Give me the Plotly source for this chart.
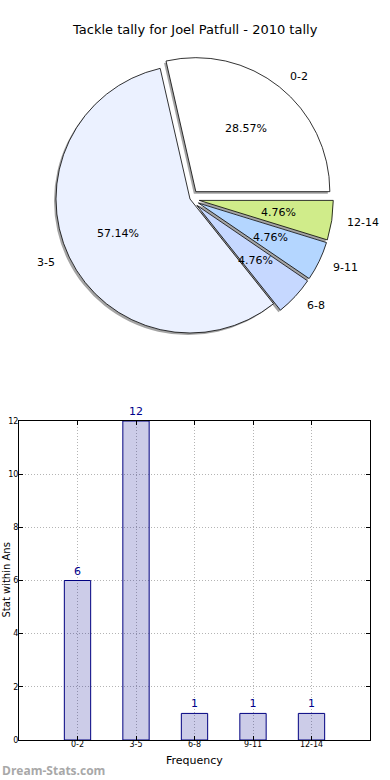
import numpy as np
import plotly.graph_objects as go

# ---------------- data ----------------
categories = ["0-2", "3-5", "6-8", "9-11", "12-14"]
counts = [6, 12, 1, 1, 1]
pie_colors = ["#ffffff", "#ebf1ff", "#c6d8ff", "#b4d6ff", "#d0ec8a"]
pie_pull = [0.07, 0.0, 0.07, 0.07, 0.07]
title_text = "Tackle tally for Joel Patfull - 2010 tally"
x_title = "Frequency"
y_title = "Stat within Ans"
watermark = "Dream-Stats.com"

W, H = 390, 780
FONT = "DejaVu Sans"

# ---------------- pie geometry (pixels) ----------------
cx, cy = 190.0, 199.0          # pie centre in pixels (from top-left)
r = 134.0                      # pie radius in pixels
half = r * (1 + max(pie_pull))
dom_x = [(cx - half) / W, (cx + half) / W]
dom_y = [(H - (cy + half)) / H, (H - (cy - half)) / H]
sh = 2.0                       # shadow offset in px

vals = np.array(counts, dtype=float)
fracs = vals / vals.sum()
# plotly (counterclockwise) puts the first slice ending at the rotation angle;
# shift so the first slice starts at 3 o'clock like the reference
rot = 90.0 - fracs[0] * 360.0

fig = go.Figure()

# shadow
fig.add_trace(go.Pie(
    labels=categories, values=counts, sort=False, direction="counterclockwise",
    rotation=rot, pull=pie_pull, textinfo="none", hoverinfo="skip",
    marker=dict(colors=["rgba(90,90,90,0.55)"] * len(counts),
                line=dict(width=0)),
    domain=dict(x=[dom_x[0] - sh / W, dom_x[1] - sh / W],
                y=[dom_y[0] - sh / H, dom_y[1] - sh / H]),
    showlegend=False,
))
# main pie
fig.add_trace(go.Pie(
    labels=categories, values=counts, sort=False, direction="counterclockwise",
    rotation=rot, pull=pie_pull, textinfo="none",
    marker=dict(colors=pie_colors, line=dict(color="#000000", width=0.8)),
    domain=dict(x=dom_x, y=dom_y),
    showlegend=False,
))

# percent + category labels derived from values
ends = np.cumsum(fracs) * 360.0
starts = ends - fracs * 360.0
mids = np.deg2rad((starts + ends) / 2.0)
annotations = []
for lab, f, a, p in zip(categories, fracs, mids, pie_pull):
    ox = cx + p * r * np.cos(a)
    oy = cy - p * r * np.sin(a)
    px = ox + 0.6 * r * np.cos(a)
    py = oy - 0.6 * r * np.sin(a)
    annotations.append(dict(
        x=px / W, y=(H - py) / H, xref="paper", yref="paper",
        text=f"{f*100:.2f}%", showarrow=False,
        font=dict(family=FONT, size=11, color="#000000"),
        xanchor="center", yanchor="middle"))
    lx = ox + 1.1 * r * np.cos(a)
    ly = oy - 1.1 * r * np.sin(a)
    annotations.append(dict(
        x=lx / W, y=(H - ly) / H, xref="paper", yref="paper",
        text=lab, showarrow=False,
        font=dict(family=FONT, size=11, color="#000000"),
        xanchor="left" if np.cos(a) > 0 else "right", yanchor="middle"))

# ---------------- bar chart ----------------
xpos = list(range(len(categories)))
fig.add_trace(go.Bar(
    x=xpos, y=counts, width=0.45,
    marker=dict(color="rgba(0,0,139,0.2)", line=dict(color="#000080", width=1)),
    text=[str(c) for c in counts], textposition="outside",
    textfont=dict(family=FONT, size=11, color="#00008b"),
    cliponaxis=False, xaxis="x", yaxis="y", showlegend=False,
))

ax_left, ax_right = 19, 370
ax_top, ax_bottom = 421, 740

grid = dict(showgrid=True, gridcolor="#b4b4b4", griddash="1px,2px", gridwidth=1)
fig.update_layout(
    width=W, height=H,
    margin=dict(l=0, r=0, t=0, b=0),
    paper_bgcolor="white", plot_bgcolor="white",
    font=dict(family=FONT, color="#000000"),
    xaxis=dict(domain=[ax_left / W, ax_right / W], anchor="y",
               range=[-1, 5], tickvals=xpos, ticktext=categories,
               ticks="inside", ticklen=4, tickcolor="#000000",
               showline=True, linecolor="#000000", linewidth=1, mirror="ticks",
               zeroline=False, automargin=False, ticklabelstandoff=-4,
               tickfont=dict(family=FONT, size=8, color="#000000"),
               **grid),
    yaxis=dict(domain=[(H - ax_bottom) / H, (H - ax_top) / H], anchor="x",
               range=[0, 12], dtick=2,
               ticks="inside", ticklen=4, tickcolor="#000000",
               showline=True, linecolor="#000000", linewidth=1, mirror="ticks",
               zeroline=False, automargin=False, ticklabelstandoff=-2,
               tickfont=dict(family=FONT, size=8, color="#000000"),
               **grid),
    annotations=annotations + [
        dict(x=0.5, y=(H - 30) / H, xref="paper", yref="paper",
             text=title_text, showarrow=False,
             font=dict(family=FONT, size=13, color="#000000"),
             xanchor="center", yanchor="middle"),
        dict(x=(ax_left + ax_right) / 2 / W, y=(H - 760) / H, xref="paper", yref="paper",
             text=x_title, showarrow=False,
             font=dict(family=FONT, size=11, color="#000000"),
             xanchor="center", yanchor="middle"),
        dict(x=5.5 / W, y=(H - 580) / H, xref="paper", yref="paper",
             text=y_title, textangle=-90, showarrow=False,
             font=dict(family=FONT, size=10, color="#000000"),
             xanchor="center", yanchor="middle"),
        dict(x=0, y=(H - 770) / H, xref="paper", yref="paper",
             text="<b>" + watermark + "</b>", showarrow=False,
             font=dict(family="Open Sans", size=12, color="#a8a8a8"),
             xanchor="left", yanchor="middle"),
    ],
)

fig.write_html(
    "out.html",
    config={"displayModeBar": False},
    post_script="document.body.style.margin='0';document.body.style.overflow='hidden';",
)
